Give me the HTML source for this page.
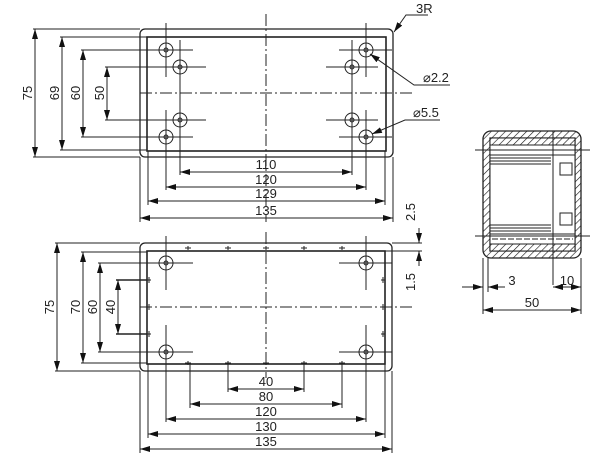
<!DOCTYPE html>
<html><head><style>body{margin:0;background:#fff}svg{display:block}text{font-family:"Liberation Sans",sans-serif;font-size:13px;fill:#222}</style></head><body>
<svg width="600" height="463" viewBox="0 0 600 463" xmlns="http://www.w3.org/2000/svg">
<defs>
<marker id="a" viewBox="0 0 10 6" refX="10" refY="3" markerWidth="10" markerHeight="6" markerUnits="userSpaceOnUse" orient="auto-start-reverse"><path d="M0,0L10,3L0,6z" fill="#111"/></marker>
<pattern id="h" width="5" height="5" patternUnits="userSpaceOnUse" patternTransform="rotate(45)"><line x1="0" y1="0" x2="0" y2="5" stroke="#111" stroke-width="1.2"/></pattern>
</defs>
<g stroke="#222" fill="none" stroke-width="1">
<rect x="140" y="29" width="253" height="128" rx="5" stroke-width="1.3"/>
<rect x="147" y="37" width="239" height="114" stroke-width="1.6"/>
<line x1="266" y1="14" x2="266" y2="222" stroke-dasharray="12,3,2,3"/>
<line x1="140" y1="93" x2="412" y2="93" stroke-dasharray="12,3,2,3"/>
<g>
<circle cx="166" cy="50" r="7"/><circle cx="166" cy="50" r="2"/>
<circle cx="166" cy="137" r="7"/><circle cx="166" cy="137" r="2"/>
<circle cx="366" cy="50" r="7"/><circle cx="366" cy="50" r="2"/>
<circle cx="366" cy="137" r="7"/><circle cx="366" cy="137" r="2"/>
<circle cx="180" cy="67" r="7"/><circle cx="180" cy="67" r="2"/>
<circle cx="180" cy="120" r="7"/><circle cx="180" cy="120" r="2"/>
<circle cx="352" cy="67" r="7"/><circle cx="352" cy="67" r="2"/>
<circle cx="352" cy="120" r="7"/><circle cx="352" cy="120" r="2"/>
</g>
<line x1="166" y1="23" x2="166" y2="77"/><line x1="166" y1="110" x2="166" y2="190"/>
<line x1="366" y1="23" x2="366" y2="77"/><line x1="366" y1="110" x2="366" y2="190"/>
<line x1="180" y1="40" x2="180" y2="175"/><line x1="352" y1="40" x2="352" y2="175"/>
<line x1="81" y1="50" x2="193" y2="50"/><line x1="339" y1="50" x2="392" y2="50"/>
<line x1="81" y1="137" x2="193" y2="137"/><line x1="339" y1="137" x2="392" y2="137"/>
<line x1="105" y1="67" x2="206" y2="67"/><line x1="326" y1="67" x2="378" y2="67"/>
<line x1="105" y1="120" x2="206" y2="120"/><line x1="326" y1="120" x2="378" y2="120"/>
<line x1="33" y1="29" x2="140" y2="29"/><line x1="33" y1="157" x2="140" y2="157"/>
<line x1="60" y1="37" x2="147" y2="37"/><line x1="60" y1="150" x2="147" y2="150"/>
<line x1="35" y1="29" x2="35" y2="157" marker-start="url(#a)" marker-end="url(#a)"/>
<line x1="62" y1="37" x2="62" y2="150" marker-start="url(#a)" marker-end="url(#a)"/>
<line x1="83" y1="50" x2="83" y2="137" marker-start="url(#a)" marker-end="url(#a)"/>
<line x1="107" y1="67" x2="107" y2="120" marker-start="url(#a)" marker-end="url(#a)"/>
<line x1="140" y1="157" x2="140" y2="222"/><line x1="393" y1="157" x2="393" y2="222"/>
<line x1="148" y1="151" x2="148" y2="205"/><line x1="385" y1="151" x2="385" y2="205"/>
<line x1="180" y1="172" x2="352" y2="172" marker-start="url(#a)" marker-end="url(#a)"/>
<line x1="166" y1="187" x2="366" y2="187" marker-start="url(#a)" marker-end="url(#a)"/>
<line x1="148" y1="201" x2="385" y2="201" marker-start="url(#a)" marker-end="url(#a)"/>
<line x1="140" y1="218" x2="393" y2="218" marker-start="url(#a)" marker-end="url(#a)"/>
<polyline points="394,32 406,15 428,15" marker-start="url(#a)"/>
<polyline points="370,54 414,85 450,85" marker-start="url(#a)"/>
<polyline points="372,134 405,120 440,120" marker-start="url(#a)"/>

<rect x="140" y="243" width="252" height="128" rx="5" stroke-width="1.3"/>
<rect x="147" y="251" width="238" height="113" stroke-width="1.6"/>
<line x1="266" y1="232" x2="266" y2="378" stroke-dasharray="12,3,2,3"/>
<line x1="140" y1="307" x2="414" y2="307" stroke-dasharray="12,3,2,3"/>
<circle cx="166" cy="263" r="7"/><circle cx="166" cy="263" r="2"/>
<circle cx="166" cy="352" r="7"/><circle cx="166" cy="352" r="2"/>
<circle cx="366" cy="263" r="7"/><circle cx="366" cy="263" r="2"/>
<circle cx="366" cy="352" r="7"/><circle cx="366" cy="352" r="2"/>
<line x1="166" y1="236" x2="166" y2="290"/><line x1="166" y1="325" x2="166" y2="422"/>
<line x1="366" y1="236" x2="366" y2="290"/><line x1="366" y1="325" x2="366" y2="422"/>
<line x1="98" y1="263" x2="193" y2="263"/><line x1="339" y1="263" x2="392" y2="263"/>
<line x1="98" y1="352" x2="193" y2="352"/><line x1="339" y1="352" x2="392" y2="352"/>
<line x1="55" y1="243" x2="140" y2="243"/><line x1="55" y1="371" x2="140" y2="371"/>
<line x1="81" y1="252" x2="147" y2="252"/><line x1="81" y1="363" x2="147" y2="363"/>
<line x1="116" y1="280" x2="147" y2="280" stroke-width="1.5"/><line x1="116" y1="334" x2="147" y2="334" stroke-width="1.5"/>
<line x1="392" y1="243" x2="422" y2="243"/><line x1="385" y1="251" x2="422" y2="251"/>
<line x1="419" y1="228" x2="419" y2="243" marker-end="url(#a)"/>
<line x1="419" y1="266" x2="419" y2="251" marker-end="url(#a)"/>
<line x1="57" y1="243" x2="57" y2="371" marker-start="url(#a)" marker-end="url(#a)"/>
<line x1="83" y1="252" x2="83" y2="363" marker-start="url(#a)" marker-end="url(#a)"/>
<line x1="100" y1="263" x2="100" y2="352" marker-start="url(#a)" marker-end="url(#a)"/>
<line x1="118" y1="280" x2="118" y2="334" marker-start="url(#a)" marker-end="url(#a)"/>
<g stroke-width="1">
<path d="M188,250v-4M191,248h-6M228,250v-4M231,248h-6M266,250v-4M269,248h-6M304,250v-4M307,248h-6M342,250v-4M345,248h-6"/>
<path d="M188,365v-4M191,363h-6M228,365v-4M231,363h-6M266,365v-4M269,363h-6M304,365v-4M307,363h-6M342,365v-4M345,363h-6"/>
<path d="M147,280h4M149,277v6M147,307h4M149,304v6M147,334h4M149,331v6M385,280h-4M383,277v6M385,307h-4M383,304v6M385,334h-4M383,331v6"/>
</g>
<line x1="140" y1="371" x2="140" y2="453"/><line x1="392" y1="371" x2="392" y2="453"/>
<line x1="148" y1="364" x2="148" y2="438"/><line x1="385" y1="364" x2="385" y2="438"/>
<line x1="190" y1="364" x2="190" y2="408"/><line x1="342" y1="364" x2="342" y2="408"/>
<line x1="228" y1="364" x2="228" y2="392"/><line x1="304" y1="364" x2="304" y2="392"/>
<line x1="228" y1="389" x2="304" y2="389" marker-start="url(#a)" marker-end="url(#a)"/>
<line x1="190" y1="404" x2="342" y2="404" marker-start="url(#a)" marker-end="url(#a)"/>
<line x1="166" y1="419" x2="366" y2="419" marker-start="url(#a)" marker-end="url(#a)"/>
<line x1="148" y1="434" x2="385" y2="434" marker-start="url(#a)" marker-end="url(#a)"/>
<line x1="140" y1="449" x2="392" y2="449" marker-start="url(#a)" marker-end="url(#a)"/>

<path fill="url(#h)" fill-rule="evenodd" stroke-width="1.3" d="M491,131h82a8,8 0 0 1 8,8v111a8,8 0 0 1 -8,8h-82a8,8 0 0 1 -8,-8v-111a8,8 0 0 1 8,-8z M490,138v113h85v-113z"/>
<rect x="490" y="138" width="85" height="113" fill="#fff"/>
<rect x="490" y="138" width="85" height="7" fill="url(#h)" stroke="none"/>
<rect x="490" y="244" width="85" height="7" fill="url(#h)" stroke="none"/>
<rect x="490" y="145" width="85" height="10"/><line x1="492" y1="150" x2="573" y2="150" stroke-dasharray="6,2"/>
<rect x="490" y="234" width="85" height="10"/><line x1="492" y1="239" x2="573" y2="239" stroke-dasharray="6,2"/>
<line x1="490" y1="158" x2="551" y2="158"/><line x1="490" y1="161" x2="551" y2="161"/>
<line x1="490" y1="164" x2="551" y2="164"/>
<line x1="490" y1="225" x2="551" y2="225"/><line x1="490" y1="228" x2="551" y2="228"/><line x1="490" y1="231" x2="551" y2="231"/>
<line x1="553" y1="131" x2="553" y2="285"/>
<rect x="560" y="163" width="12" height="12"/><rect x="560" y="213" width="12" height="12"/>
<line x1="475" y1="150" x2="590" y2="150"/><line x1="475" y1="236" x2="590" y2="236"/>
<line x1="483" y1="258" x2="483" y2="314"/><line x1="488" y1="258" x2="488" y2="292"/><line x1="581" y1="258" x2="581" y2="314"/>
<line x1="462" y1="287" x2="483" y2="287" marker-end="url(#a)"/>
<line x1="505" y1="287" x2="488" y2="287" marker-end="url(#a)"/>
<line x1="553" y1="287" x2="581" y2="287" marker-start="url(#a)" marker-end="url(#a)"/>
<line x1="483" y1="310" x2="581" y2="310" marker-start="url(#a)" marker-end="url(#a)"/>
</g>
<text x="266" y="169" text-anchor="middle">110</text>
<text x="266" y="184" text-anchor="middle">120</text>
<text x="266" y="198" text-anchor="middle">129</text>
<text x="266" y="215" text-anchor="middle">135</text>
<text transform="translate(36,93) rotate(-90)" text-anchor="middle" y="-4">75</text>
<text transform="translate(63,93) rotate(-90)" text-anchor="middle" y="-4">69</text>
<text transform="translate(84,93) rotate(-90)" text-anchor="middle" y="-4">60</text>
<text transform="translate(108,93) rotate(-90)" text-anchor="middle" y="-4">50</text>
<text x="416" y="13">3R</text>
<text x="423" y="82">⌀2.2</text>
<text x="413" y="117">⌀5.5</text>
<text transform="translate(419,212) rotate(-90)" text-anchor="middle" y="-4">2.5</text>
<text transform="translate(419,282) rotate(-90)" text-anchor="middle" y="-4">1.5</text>
<text transform="translate(58,307) rotate(-90)" text-anchor="middle" y="-4">75</text>
<text transform="translate(84,307) rotate(-90)" text-anchor="middle" y="-4">70</text>
<text transform="translate(101,307) rotate(-90)" text-anchor="middle" y="-4">60</text>
<text transform="translate(119,307) rotate(-90)" text-anchor="middle" y="-4">40</text>
<text x="266" y="386" text-anchor="middle">40</text>
<text x="266" y="401" text-anchor="middle">80</text>
<text x="266" y="416" text-anchor="middle">120</text>
<text x="266" y="431" text-anchor="middle">130</text>
<text x="266" y="446" text-anchor="middle">135</text>
<text x="512" y="285" text-anchor="middle">3</text>
<text x="567" y="285" text-anchor="middle">10</text>
<text x="532" y="307" text-anchor="middle">50</text>
</svg>
</body></html>
